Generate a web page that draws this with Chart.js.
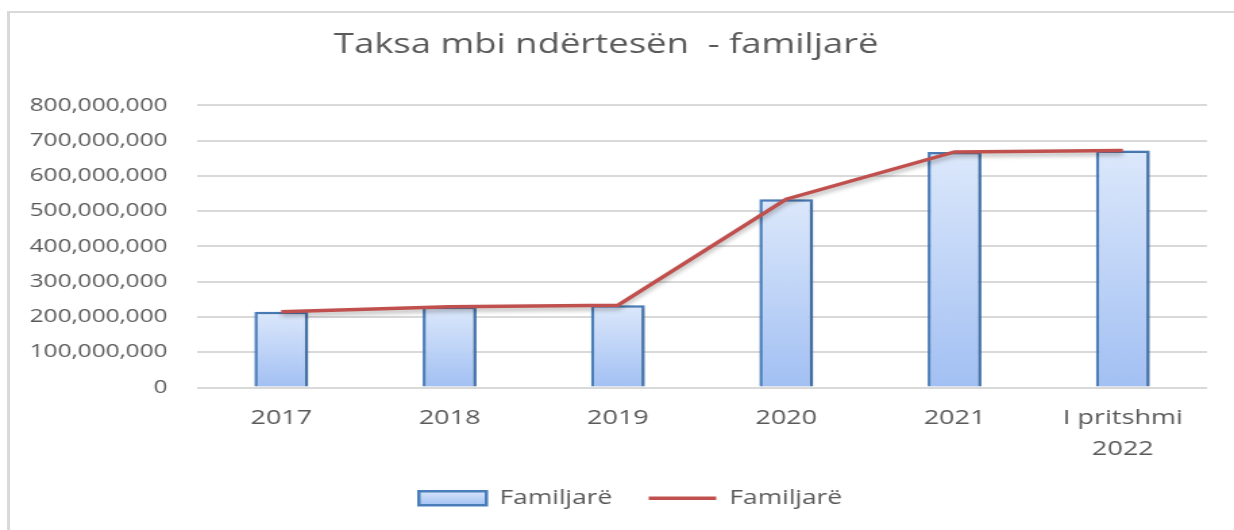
<!DOCTYPE html>
<html>
<head>
<meta charset="utf-8">
<script src="https://cdn.jsdelivr.net/npm/chart.js@4.4.1/dist/chart.umd.min.js"></script>
<style>
    body { margin: 0; background: #ffffff; overflow: hidden; }
    #frame {
        position: absolute; left: 7px; top: 11px; width: 1300px; height: 600px;
        border-left: 3px solid #d9d9d9; border-top: 2px solid #d9d9d9;
    }
    #myChart { position: absolute; left: 0; top: 0; }
</style>
</head>
<body>
<div id="frame"></div>
<!-- canvas digambar lebih sempit lalu direntang horizontal seperti gambar asli -->
<canvas id="myChart" width="914" height="530" style="width:1234px;height:530px"></canvas>
<script>
// Data grafik
var kategori = ['2017', '2018', '2019', '2020', '2021', ['I pritshmi', '2022']];
var familjare = [215000000, 229000000, 233000000, 534000000, 668000000, 672000000];
var yTicks = [0, 100000000, 200000000, 300000000, 400000000, 500000000, 600000000, 700000000, 800000000];

var teks = '#595959';
var font = "'Open Sans', sans-serif";

// Gradien untuk setiap batang, terang di atas dan lebih gelap di bawah
function gradienBatang(context) {
    var chart = context.chart;
    var area = chart.chartArea;
    if (!area || context.dataIndex === undefined) {
        return '#c3d6f7';
    }
    var top = chart.scales.y.getPixelForValue(context.raw);
    var g = chart.ctx.createLinearGradient(0, top, 0, area.bottom);
    g.addColorStop(0, '#dce8fb');
    g.addColorStop(1, '#a2c0f3');
    return g;
}

// Bayangan tipis untuk garis dan batang
var bayangan = {
    id: 'bayangan',
    beforeDatasetDraw: function(chart, args) {
        var ctx = chart.ctx;
        ctx.save();
        if (args.index === 1) {
            ctx.shadowColor = 'rgba(0,0,0,0.3)';
            ctx.shadowBlur = 4;
            ctx.shadowOffsetY = 3;
        } else {
            ctx.shadowColor = 'rgba(0,0,0,0.2)';
            ctx.shadowBlur = 3;
            ctx.shadowOffsetX = 2;
        }
    },
    afterDatasetDraw: function(chart) {
        chart.ctx.restore();
    }
};

// Geser legenda sedikit ke kanan dan ke atas seperti gambar asli
var geserLegenda = {
    id: 'geserLegenda',
    afterLayout: function(chart) {
        var lg = chart.legend;
        lg.left += 18;
        lg.right += 18;
        lg.top -= 18;
        lg.bottom -= 18;
    }
};

var ctx = document.getElementById('myChart').getContext('2d');
window.myChart = new Chart(ctx, {
    type: 'bar',
    data: {
        labels: kategori,
        datasets: [{
                type: 'bar',
                label: 'Familjarë',
                data: familjare,
                backgroundColor: gradienBatang,
                borderColor: '#4a7ebb',
                borderWidth: 2.5,
                categoryPercentage: 1,
                barPercentage: 0.32,
                order: 1
            },
            {
                type: 'line',
                label: 'Familjarë',
                data: familjare,
                borderColor: '#c0504d',
                borderWidth: 3.5,
                pointRadius: 0,
                tension: 0,
                order: 0
            }
        ]
    },
    plugins: [bayangan, geserLegenda],
    options: {
        responsive: false,
        devicePixelRatio: 1,
        animation: false,
        layout: {
            padding: { left: 4, right: 20, top: 0, bottom: -6 }
        },
        plugins: {
            title: {
                display: true,
                text: 'Taksa mbi ndërtesën  - familjarë',
                color: teks,
                font: { family: font, size: 27, weight: 'normal' },
                padding: { top: 29, bottom: 44 }
            },
            legend: {
                position: 'bottom',
                labels: {
                    color: teks,
                    font: { family: font, size: 19.5 },
                    usePointStyle: true,
                    pointStyleWidth: 50,
                    boxHeight: 14,
                    padding: 27,
                    generateLabels: function(chart) {
                        var g = chart.ctx.createLinearGradient(0, 490, 0, 506);
                        g.addColorStop(0, '#dce8fb');
                        g.addColorStop(1, '#a2c0f3');
                        return [{
                                text: 'Familjarë',
                                fillStyle: g,
                                strokeStyle: '#4a7ebb',
                                lineWidth: 2.5,
                                pointStyle: 'rect',
                                fontColor: teks,
                                datasetIndex: 0
                            },
                            {
                                text: 'Familjarë',
                                fillStyle: '#c0504d',
                                strokeStyle: '#c0504d',
                                lineWidth: 3.5,
                                pointStyle: 'line',
                                fontColor: teks,
                                datasetIndex: 1
                            }
                        ];
                    }
                }
            },
            tooltip: { enabled: false }
        },
        scales: {
            x: {
                grid: { display: false, drawTicks: false },
                border: { display: false },
                ticks: {
                    color: teks,
                    font: { family: font, size: 20, lineHeight: 1.55 },
                    padding: 15,
                    maxRotation: 0
                }
            },
            y: {
                min: 0,
                max: 800000000,
                afterFit: function(scale) {
                    scale.width = 142;
                },
                afterBuildTicks: function(scale) {
                    scale.ticks = yTicks.map(function(v) { return { value: v }; });
                },
                grid: { color: '#d9d9d9', lineWidth: 2, drawTicks: false },
                border: { display: false },
                ticks: {
                    color: teks,
                    font: { family: font, size: 18 },
                    padding: 22,
                    callback: function(v) {
                        return v.toLocaleString('en-US');
                    }
                }
            }
        }
    }
});
</script>
</body>
</html>
